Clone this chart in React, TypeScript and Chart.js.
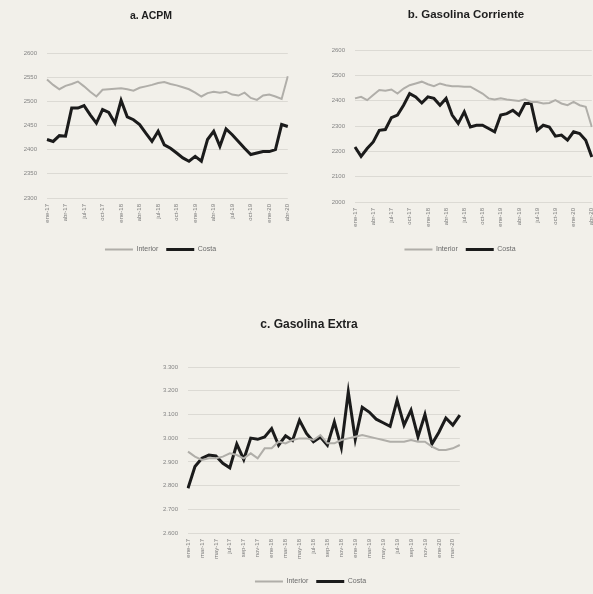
import React, { useEffect, useRef } from "react";
import { Chart, registerables } from "chart.js";

Chart.register(...registerables);

const MONTHS = [
  "ene-17", "feb-17", "mar-17", "abr-17", "may-17", "jun-17", "jul-17", "ago-17", "sep-17", "oct-17", "nov-17", "dic-17",
  "ene-18", "feb-18", "mar-18", "abr-18", "may-18", "jun-18", "jul-18", "ago-18", "sep-18", "oct-18", "nov-18", "dic-18",
  "ene-19", "feb-19", "mar-19", "abr-19", "may-19", "jun-19", "jul-19", "ago-19", "sep-19", "oct-19", "nov-19", "dic-19",
  "ene-20", "feb-20", "mar-20", "abr-20",
];

const SERIES_NAMES = ["Interior", "Costa"];
const TITLES = ["a. ACPM", "b. Gasolina Corriente", "c. Gasolina Extra"];

const ACPM_INTERIOR = [2545, 2534, 2525, 2532, 2536, 2541, 2531, 2520, 2510, 2524, 2525, 2526, 2527, 2525, 2522, 2528, 2531, 2534, 2538, 2540, 2536, 2533, 2529, 2525, 2518, 2510, 2517, 2520, 2518, 2520, 2514, 2512, 2518, 2507, 2503, 2512, 2514, 2510, 2505, 2552];
const ACPM_COSTA = [2421, 2417, 2429, 2428, 2486, 2486, 2491, 2472, 2455, 2483, 2477, 2455, 2502, 2468, 2462, 2452, 2434, 2417, 2438, 2410, 2403, 2393, 2383, 2376, 2386, 2376, 2421, 2438, 2407, 2443, 2431, 2417, 2403, 2390, 2393, 2396, 2396, 2400, 2452, 2448];

const CORRIENTE_INTERIOR = [2409, 2415, 2402, 2422, 2442, 2439, 2444, 2428, 2448, 2461, 2468, 2475, 2465, 2457, 2468, 2461, 2457, 2457, 2455, 2455, 2442, 2428, 2409, 2405, 2409, 2405, 2402, 2399, 2405, 2395, 2395, 2389, 2391, 2402, 2389, 2382, 2395, 2382, 2376, 2296];
const CORRIENTE_COSTA = [2217, 2180, 2211, 2237, 2283, 2286, 2333, 2343, 2382, 2428, 2415, 2391, 2415, 2409, 2382, 2409, 2343, 2310, 2356, 2296, 2303, 2303, 2290, 2277, 2343, 2349, 2362, 2343, 2389, 2389, 2283, 2303, 2296, 2260, 2264, 2244, 2277, 2270, 2244, 2178];

const EXTRA_INTERIOR = [2943, 2922, 2908, 2915, 2915, 2922, 2936, 2929, 2915, 2936, 2915, 2957, 2957, 2985, 2978, 2992, 2999, 2999, 2992, 3013, 2978, 2978, 2992, 2999, 3006, 3013, 3006, 2999, 2992, 2985, 2985, 2985, 2992, 2985, 2985, 2964, 2950, 2950, 2957, 2971];
const EXTRA_COSTA = [2789, 2880, 2915, 2929, 2925, 2894, 2875, 2975, 2910, 3000, 2995, 3005, 3040, 2970, 3010, 2990, 3075, 3020, 2985, 3005, 2970, 3068, 2960, 3195, 2995, 3130, 3110, 3080, 3065, 3050, 3160, 3055, 3118, 3006, 3100, 2975, 3025, 3085, 3055, 3097];

const FONT = "'Liberation Sans', Arial, sans-serif";

type Spec = {
  interior: number[];
  costa: number[];
  min: number;
  max: number;
  step: number;
  dots: boolean;
  every: number;
  padL: number;
  padR: number;
  padT: number;
  yW: number;
  xH: number;
};

function fmt(v: number, dots: boolean) {
  const s = String(Math.round(v));
  if (!dots) return s;
  return s.replace(/\B(?=(\d{3})+(?!\d))/g, ".");
}

function LineChart({ spec, width, height }: { spec: Spec; width: number; height: number }) {
  const ref = useRef<HTMLCanvasElement | null>(null);
  useEffect(() => {
    if (!ref.current) return;
    const chart = new Chart(ref.current, {
      type: "line",
      data: {
        labels: MONTHS,
        datasets: [
          {
            label: SERIES_NAMES[0],
            data: spec.interior,
            borderColor: "#b0aea9",
            backgroundColor: "#b0aea9",
            borderWidth: 2,
            pointRadius: 0,
            tension: 0,
          },
          {
            label: SERIES_NAMES[1],
            data: spec.costa,
            borderColor: "#1b1b1b",
            backgroundColor: "#1b1b1b",
            borderWidth: 3,
            pointRadius: 0,
            tension: 0,
          },
        ],
      },
      options: {
        responsive: false,
        animation: false,
        layout: { padding: { left: spec.padL, right: spec.padR, top: spec.padT, bottom: 0 } },
        plugins: {
          title: { display: false },
          legend: {
            position: "bottom",
            labels: {
              usePointStyle: true,
              pointStyle: "line",
              pointStyleWidth: 28,
              padding: 8,
              color: "#6a6a6a",
              font: { family: FONT, size: 7 },
            },
          },
          tooltip: { enabled: false },
        },
        scales: {
          x: {
            offset: false,
            grid: { display: false, drawTicks: false },
            border: { display: false },
            afterFit: (s: any) => {
              s.height = spec.xH;
            },
            ticks: {
              autoSkip: false,
              minRotation: 90,
              maxRotation: 90,
              padding: 6,
              color: "#7a7a7a",
              font: { family: FONT, size: 6 },
              callback: (_v: any, i: number) => (i % spec.every === 0 ? MONTHS[i] : ""),
            },
          },
          y: {
            min: spec.min,
            max: spec.max,
            grid: { color: "#dcdad4", lineWidth: 1, drawTicks: false },
            border: { display: false },
            afterFit: (s: any) => {
              s.width = spec.yW;
            },
            ticks: {
              stepSize: spec.step,
              padding: 10,
              color: "#858585",
              font: { family: FONT, size: 6 },
              callback: (v: any) => fmt(Number(v), spec.dots),
            },
          },
        },
      },
    } as any);
    return () => chart.destroy();
  }, [spec]);
  return <canvas ref={ref} width={width} height={height} style={{ display: "block", width, height }} />;
}

const SPEC_A: Spec = {
  interior: ACPM_INTERIOR, costa: ACPM_COSTA,
  min: 2300, max: 2600, step: 50, dots: false, every: 3,
  padL: 20, padR: 0, padT: 53, yW: 27, xH: 40,
};
const SPEC_B: Spec = {
  interior: CORRIENTE_INTERIOR, costa: CORRIENTE_COSTA,
  min: 2000, max: 2600, step: 100, dots: false, every: 3,
  padL: 15, padR: 0, padT: 50, yW: 40, xH: 36,
};
const SPEC_C: Spec = {
  interior: EXTRA_INTERIOR, costa: EXTRA_COSTA,
  min: 2600, max: 3300, step: 100, dots: true, every: 2,
  padL: 8, padR: 0, padT: 61, yW: 40, xH: 37,
};

function Title({ text, cx, cy, size }: { text: string; cx: number; cy: number; size: number }) {
  return (
    <div
      style={{
        position: "absolute",
        left: cx - 150,
        top: cy - size * 0.6,
        width: 300,
        textAlign: "center",
        fontFamily: FONT,
        fontWeight: "bold",
        fontSize: size,
        lineHeight: `${size * 1.2}px`,
        color: "#1e1e1e",
        whiteSpace: "nowrap",
      }}
    >
      {text}
    </div>
  );
}

export default function App() {
  return (
    <div style={{ position: "absolute", left: 0, top: 0, width: 593, height: 594, background: "#f2f0ea", overflow: "hidden" }}>
      <div style={{ position: "absolute", left: 0, top: 0 }}>
        <LineChart spec={SPEC_A} width={301} height={263} />
      </div>
      <div style={{ position: "absolute", left: 300, top: 0 }}>
        <LineChart spec={SPEC_B} width={305} height={263} />
      </div>
      <div style={{ position: "absolute", left: 140, top: 306 }}>
        <LineChart spec={SPEC_C} width={333} height={289} />
      </div>
      <Title text={TITLES[0]} cx={151} cy={15} size={10.5} />
      <Title text={TITLES[1]} cx={466} cy={15} size={11.5} />
      <Title text={TITLES[2]} cx={309} cy={324} size={12} />
    </div>
  );
}
